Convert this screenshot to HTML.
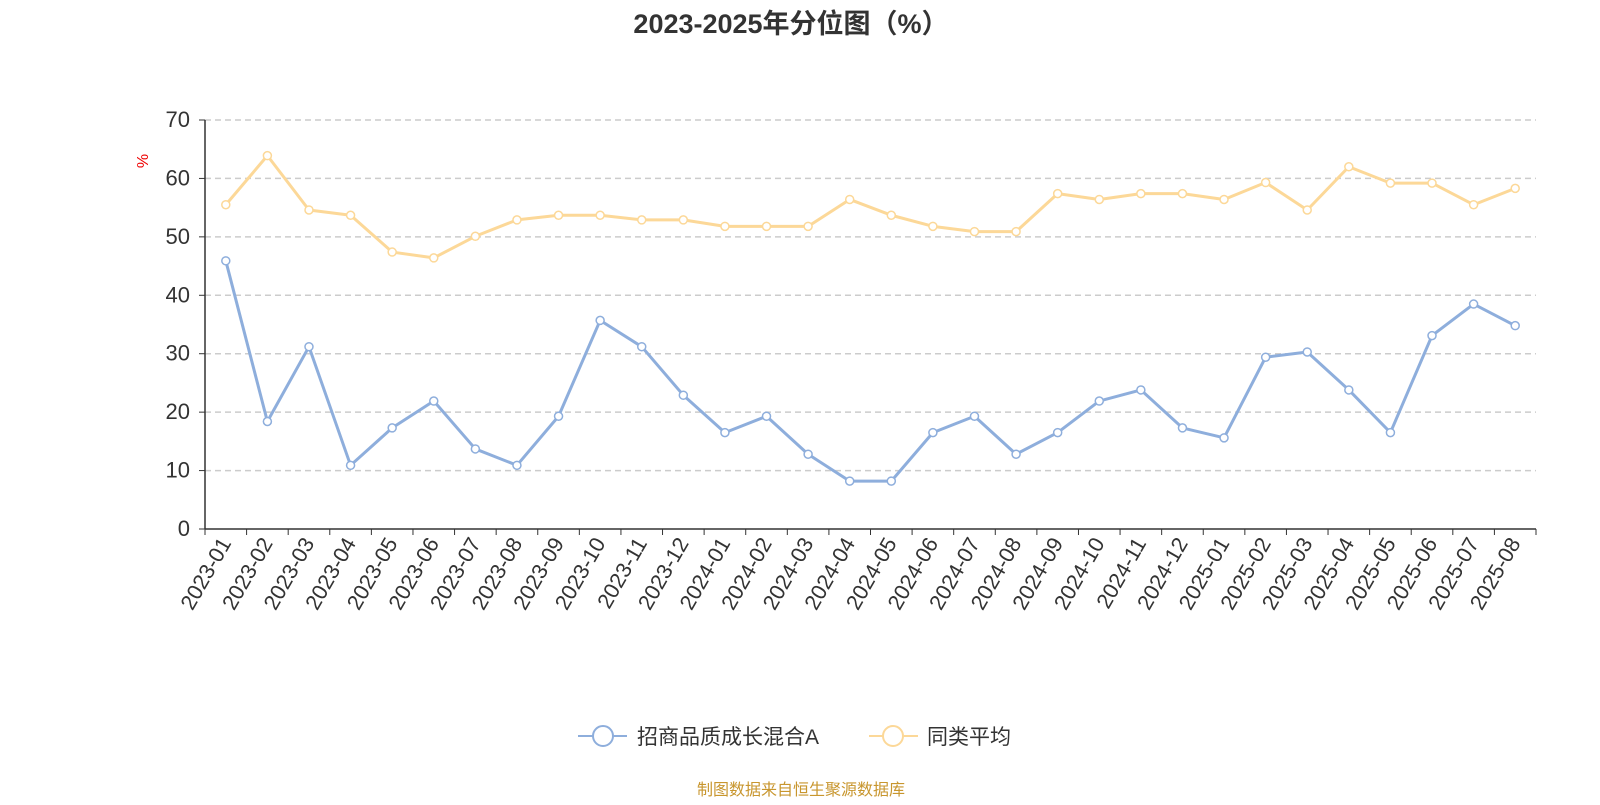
<!DOCTYPE html>
<html><head><meta charset="utf-8"><style>
body{margin:0;background:#fff;font-family:"Liberation Sans","Noto Sans CJK SC",sans-serif;}
svg text{font-family:"Liberation Sans","Noto Sans CJK SC",sans-serif;}
</style></head><body>
<svg id="c" width="1600" height="800" xmlns="http://www.w3.org/2000/svg">
<text x="791" y="33" text-anchor="middle" font-size="27" font-weight="bold" fill="#333">2023-2025年分位图（%）</text>
<text x="0" y="0" transform="translate(148,161) rotate(-90)" text-anchor="middle" font-size="16" fill="#e00">%</text>
<g id="grid"></g><g id="axes"></g><g id="series"></g>
<g>
<g><line x1="578" y1="736" x2="627" y2="736" stroke="#8eaedc" stroke-width="2"/><circle cx="603" cy="736" r="10" fill="#fff" stroke="#8eaedc" stroke-width="2"/><text x="637" y="744" font-size="21" fill="#333">招商品质成长混合A</text></g>
<g><line x1="869" y1="736" x2="918" y2="736" stroke="#fcd898" stroke-width="2"/><circle cx="893" cy="736" r="10" fill="#fff" stroke="#fcd898" stroke-width="2"/><text x="927" y="744" font-size="21" fill="#333">同类平均</text></g>
</g>
<text x="801" y="795" text-anchor="middle" font-size="16" fill="#c8962e">制图数据来自恒生聚源数据库</text>
</svg>
<script>
const categories=["2023-01","2023-02","2023-03","2023-04","2023-05","2023-06","2023-07","2023-08","2023-09","2023-10","2023-11","2023-12","2024-01","2024-02","2024-03","2024-04","2024-05","2024-06","2024-07","2024-08","2024-09","2024-10","2024-11","2024-12","2025-01","2025-02","2025-03","2025-04","2025-05","2025-06","2025-07","2025-08"];
const fundValues=[45.9,18.4,31.2,10.9,17.3,21.9,13.7,10.9,19.3,35.7,31.2,22.9,16.5,19.3,12.8,8.2,8.2,16.5,19.3,12.8,16.5,21.9,23.8,17.3,15.6,29.4,30.3,23.8,16.5,33.1,38.5,34.8];
const avgValues=[55.5,63.9,54.6,53.7,47.4,46.4,50.1,52.9,53.7,53.7,52.9,52.9,51.8,51.8,51.8,56.4,53.7,51.8,50.9,50.9,57.4,56.4,57.4,57.4,56.4,59.3,54.6,62.0,59.2,59.2,55.5,58.3];
const yTicks=[0,10,20,30,40,50,60,70];
const NS="http://www.w3.org/2000/svg";
const L=205,R=1536,T=120,B=529,yMax=70;
const bw=(R-L)/categories.length;
const xs=i=>L+bw*(i+0.5);
const ys=v=>B-(v/yMax)*(B-T);
function mk(t,a,p){const e=document.createElementNS(NS,t);for(const k in a)e.setAttribute(k,a[k]);p.appendChild(e);return e;}
const grid=document.getElementById('grid'),axes=document.getElementById('axes'),ser=document.getElementById('series');
yTicks.forEach(v=>{
 if(v>0){const g=mk('line',{x1:L,x2:R,y1:ys(v),y2:ys(v),stroke:'#ccc','stroke-dasharray':'6,4','stroke-width':1.5},grid);
 
 }
 const t=mk('text',{x:L-15,y:ys(v)+7,'text-anchor':'end','font-size':22,fill:'#333'},axes);t.textContent=v;
 
 
 mk('line',{x1:L-6,x2:L,y1:ys(v),y2:ys(v),stroke:'#333'},axes);
});
const ya=mk('line',{x1:L,x2:L,y1:T,y2:B,stroke:'#333','stroke-width':1.5},axes);


const xa=mk('line',{x1:L,x2:R,y1:B,y2:B,stroke:'#333','stroke-width':1.5},axes);


for(let i=0;i<=categories.length;i++)mk('line',{x1:L+bw*i,x2:L+bw*i,y1:B,y2:B+6,stroke:'#333'},axes);
categories.forEach((c,i)=>{
 const x=xs(i)+6,y=B+14;
 const t=mk('text',{x:0,y:0,transform:`translate(${x},${y}) rotate(-60)`,'text-anchor':'end','font-size':21.5,fill:'#333'},axes);
 t.textContent=c;
 
 
});
function line(vals,color,name){
 const g=mk('g',{},ser);
 
 
 mk('polyline',{points:vals.map((v,i)=>xs(i)+','+ys(v)).join(' '),fill:'none',stroke:color,'stroke-width':3,'stroke-linejoin':'round'},g);
 vals.forEach((v,i)=>{const p=mk('circle',{cx:xs(i),cy:ys(v),r:4,fill:'#fff',stroke:color,'stroke-width':1.5},g);
 
 });
}
line(avgValues,'#fcd898','average-series');
line(fundValues,'#8eaedc','fund-series');
</script>
</body></html>
